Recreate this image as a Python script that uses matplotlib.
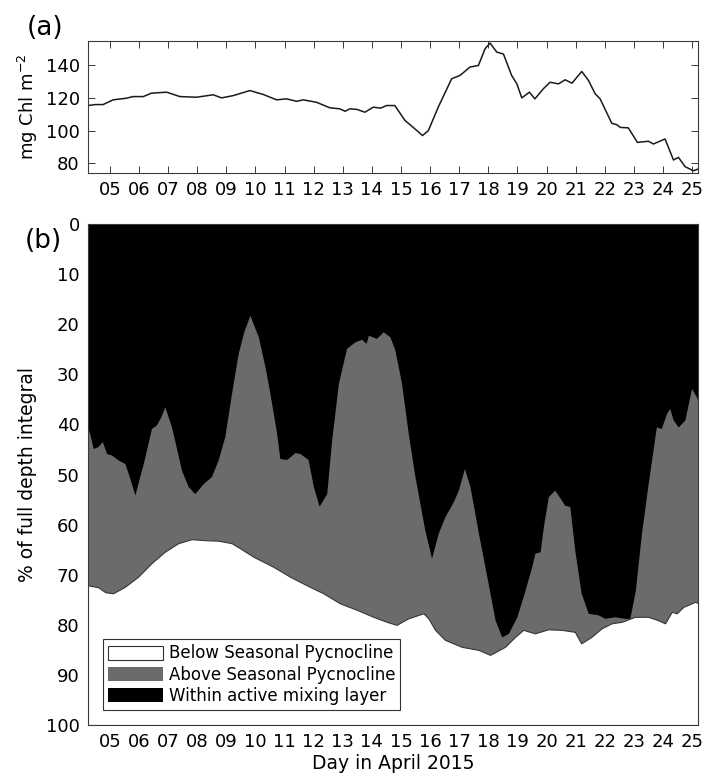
import numpy as np
import matplotlib
matplotlib.use("Agg")
import matplotlib.pyplot as plt

# (a) depth integrated chlorophyll
chl_day = [4.25, 4.5, 4.77, 5.11, 5.57, 5.8, 6.15, 6.43, 6.95, 7.41, 7.98, 8.55, 8.84,
           9.24, 9.81, 10.27, 10.73, 11.07, 11.42, 11.64, 12.1, 12.56, 12.9, 13.08, 13.25,
           13.5, 13.76, 14.05, 14.3, 14.5, 14.79, 15.14, 15.42, 15.74, 15.94, 16.28, 16.74,
           17.03, 17.37, 17.66, 17.89, 18.06, 18.29, 18.52, 18.8, 18.98, 19.15, 19.41, 19.6,
           19.89, 20.12, 20.41, 20.64, 20.87, 21.21, 21.44, 21.67, 21.84, 22.24, 22.41, 22.53,
           22.81, 23.12, 23.5, 23.67, 24.07, 24.36, 24.53, 24.76, 25.04, 25.2]
chl_val = [115.4, 116.0, 116.0, 118.9, 119.9, 120.9, 120.9, 123.0, 123.6, 120.9, 120.5, 122.0, 120.1,
           121.5, 124.6, 122.2, 118.9, 119.5, 118.0, 118.9, 117.4, 114.0, 113.4, 111.9, 113.4,
           113.0, 111.3, 114.4, 113.8, 115.4, 115.4, 106.2, 102.0, 97.0, 100.0, 114.4, 131.8,
           133.9, 139.0, 140.0, 150.3, 153.7, 148.2, 147.0, 133.9, 128.7, 120.1, 123.6, 119.5,
           125.7, 129.7, 128.7, 131.2, 129.1, 136.3, 130.8, 122.6, 119.5, 104.5, 103.7, 102.0,
           101.7, 92.8, 93.5, 91.8, 94.9, 82.0, 83.6, 77.9, 75.4, 76.4]

# (b) base of active mixing layer (% of full depth integral)
mix_day = [4.25, 4.31, 4.43, 4.6, 4.74, 4.89, 5.06, 5.29, 5.52, 5.7, 5.86, 6.0, 6.15, 6.43,
           6.6, 6.75, 6.89, 7.12, 7.3, 7.46, 7.69, 7.92, 8.21, 8.49, 8.72, 8.95, 9.18, 9.41,
           9.6, 9.81, 10.1, 10.33, 10.5, 10.73, 10.84, 11.07, 11.36, 11.53, 11.81, 11.99, 12.19,
           12.45, 12.62, 12.85, 13.13, 13.42, 13.65, 13.8, 13.88, 14.16, 14.39, 14.62, 14.79,
           15.02, 15.25, 15.48, 15.82, 16.05, 16.28, 16.51, 16.8, 16.97, 17.18, 17.37, 17.66,
           17.95, 18.23, 18.46, 18.69, 18.98, 19.26, 19.49, 19.6, 19.78, 19.89, 20.06, 20.28,
           20.51, 20.62, 20.8, 20.97, 21.19, 21.43, 21.77, 22.0, 22.34, 22.69, 22.86, 23.05,
           23.26, 23.49, 23.77, 23.94, 24.12, 24.23, 24.35, 24.52, 24.75, 24.98, 25.15, 25.23]
mix_pct = [40.8, 41.8, 44.8, 44.4, 43.4, 45.8, 46.1, 47.1, 47.8, 51.0, 54.1, 51.0, 47.8, 40.8,
           40.1, 38.5, 36.5, 40.5, 45.0, 49.1, 52.4, 53.8, 51.8, 50.4, 47.1, 42.4, 33.8, 25.8,
           21.5, 18.2, 22.5, 28.5, 33.8, 41.8, 46.8, 47.0, 45.6, 45.8, 47.0, 52.4, 56.3,
           53.8, 43.1, 31.8, 24.8, 23.5, 23.0, 23.8, 22.2, 22.8, 21.5, 22.5, 25.1,
           31.8, 41.8, 50.4, 61.1, 66.7, 61.7, 58.4, 55.4, 53.1, 48.8, 52.4, 61.7,
           70.4, 79.0, 82.4, 81.7, 78.4, 73.1, 68.4, 65.7, 65.4, 60.4, 54.4, 53.1,
           55.1, 56.1, 56.4, 65.1, 73.7, 77.7, 78.0, 78.7, 78.4, 78.7, 78.7, 73.1,
           61.7, 51.8, 40.5, 40.8, 37.8, 36.8, 39.1, 40.5, 39.1, 32.8, 34.5, 35.8]

# (b) seasonal pycnocline (% of full depth integral)
pyc_day = [4.25, 4.6, 4.85, 5.11, 5.52, 5.97, 6.43, 6.89, 7.35, 7.81, 8.26, 8.72, 9.18, 9.47,
           9.93, 10.61, 11.19, 11.76, 12.33, 12.9, 13.48, 14.05, 14.51, 14.85, 15.25, 15.77,
           15.94, 16.17, 16.51, 17.09, 17.66, 18.06, 18.57, 18.92, 19.2, 19.6, 20.05, 20.51,
           20.97, 21.19, 21.54, 21.89, 22.23, 22.58, 23.04, 23.49, 23.84, 24.07, 24.3, 24.47,
           24.7, 24.87, 25.1, 25.23]
pyc_pct = [72.1, 72.5, 73.5, 73.7, 72.4, 70.4, 67.7, 65.4, 63.7, 62.9, 63.1, 63.2, 63.7, 64.7,
           66.4, 68.4, 70.4, 72.1, 73.7, 75.7, 77.0, 78.4, 79.4, 80.0, 78.7, 77.7,
           78.7, 81.0, 83.0, 84.4, 85.0, 86.0, 84.4, 82.4, 81.0, 81.7, 80.9, 81.0,
           81.4, 83.7, 82.4, 80.7, 79.7, 79.4, 78.4, 78.4, 79.1, 79.7, 77.4, 77.7,
           76.4, 76.0, 75.4, 75.7]

day_ticks = list(range(5, 26))
pct_ticks = list(range(0, 101, 10))
chl_ticks = [80, 100, 120, 140]

spine_col = '#3a3a3a'
gray = '#6b6b6b'

fig = plt.figure(figsize=(7.06, 7.78), dpi=100)
ax1 = fig.add_axes([0.1246, 0.7776, 0.864, 0.1697])
ax2 = fig.add_axes([0.1246, 0.0681, 0.864, 0.6439])

# top panel
ax1.plot(chl_day, chl_val, color='#1a1a1a', lw=1.1)
ax1.set_xlim(4.25, 25.2)
ax1.set_ylim(74, 155)
ax1.set_yticks(chl_ticks)
ax1.set_xticks(day_ticks)
ax1.set_xticklabels(['%02d' % d for d in day_ticks])
ax1.set_ylabel('mg Chl m$^{-2}$', fontsize=13, labelpad=4)
ax1.tick_params(direction='in', length=5, width=0.7, top=True, right=True,
                labelsize=13, color=spine_col, pad=6)

# bottom panel
ax2.fill_between(pyc_day, 0, pyc_pct, color=gray, lw=0, label='Above Seasonal Pycnocline')
ax2.fill_between(mix_day, 0, mix_pct, color='black', lw=0, label='Within active mixing layer')
ax2.fill_between(pyc_day, pyc_pct, 100, facecolor='white', edgecolor='black', lw=0,
                 label='Below Seasonal Pycnocline')
ax2.set_axisbelow(True)
ax2.set_xlim(4.25, 25.2)
ax2.set_ylim(100, 0)
ax2.set_yticks(pct_ticks)
ax2.set_xticks(day_ticks)
ax2.set_xticklabels(['%02d' % d for d in day_ticks])
ax2.set_ylabel('% of full depth integral', fontsize=13.5, labelpad=6)
ax2.set_xlabel('Day in April 2015', fontsize=13.5, labelpad=2)
ax2.tick_params(direction='in', length=5, width=0.7, labelsize=13, color=spine_col, pad=6)

for ax in (ax1, ax2):
    for s in ax.spines.values():
        s.set_color(spine_col)
        s.set_linewidth(0.8)

h, l = ax2.get_legend_handles_labels()
h[2].set_edgecolor('#333333')
h[2].set_linewidth(0.8)
order = [2, 0, 1]
leg = ax2.legend([h[i] for i in order], [l[i] for i in order], loc='lower left',
                 fontsize=12, fancybox=False, framealpha=1, edgecolor='#333333',
                 handlelength=3.3, handleheight=0.9, handletextpad=0.35,
                 labelspacing=0.2, borderpad=0.3, borderaxespad=0.9)
leg.get_frame().set_linewidth(0.8)

fig.text(0.064, 0.964, '(a)', fontsize=19, ha='center', va='center')
fig.text(0.062, 0.690, '(b)', fontsize=19, ha='center', va='center')

fig.savefig('out.png', dpi=100)
